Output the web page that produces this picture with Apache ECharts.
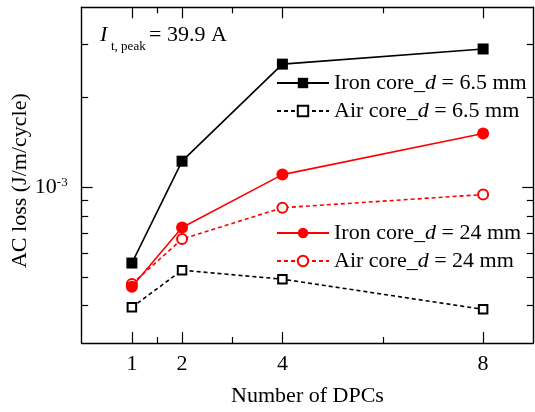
<!DOCTYPE html>
<html>
<head>
<meta charset="utf-8">
<script src="https://cdn.jsdelivr.net/npm/echarts@6/dist/echarts.min.js"></script>
<style>
html,body{margin:0;padding:0;background:#fff;}
#chart{width:535px;height:412px;}
</style>
</head>
<body>
<div id="chart"></div>
<script>
// ---- data ----
const dpcCounts = [1, 2, 4, 8];
const ironCore65 = [5.56e-4, 1.22e-3, 2.58e-3, 2.90e-3];
const airCore65  = [3.95e-4, 5.26e-4, 4.91e-4, 3.89e-4];
const ironCore24 = [4.63e-4, 7.31e-4, 1.10e-3, 1.51e-3];
const airCore24  = [4.73e-4, 6.69e-4, 8.52e-4, 9.43e-4];
const seriesNames = ['Iron core_d = 6.5 mm', 'Air core_d = 6.5 mm', 'Iron core_d = 24 mm', 'Air core_d = 24 mm'];
const xMajorTicks = [1, 2, 4, 8];
const xMinorTicks = [1.5, 3, 6];
const yMajorTicks = [1e-3];
const yMinorTicks = [4e-4, 5e-4, 6e-4, 7e-4, 8e-4, 9e-4, 2e-3, 3e-3];
const xRange = [0, 9];
const yRange = [3e-4, 4e-3];

const FONT = 'Liberation Serif';
const pairs = arr => dpcCounts.map((x, i) => [x, arr[i]]);
const lg = v => Math.log10(v);

const noLine = { show: false, onZero: false };
const blackLine = { show: true, onZero: false, lineStyle: { color: '#000', width: 1.4 } };

function xTickAxis(pos, ticks, len, showLine, extra) {
  return Object.assign({
    type: 'value', position: pos, min: xRange[0], max: xRange[1],
    axisLine: showLine ? blackLine : noLine,
    axisTick: { show: true, inside: true, length: len, customValues: ticks, lineStyle: { color: '#000', width: 1.2 } },
    axisLabel: { show: false },
    splitLine: { show: false }
  }, extra || {});
}
function yTickAxis(pos, ticks, len, showLine, extra) {
  return Object.assign({
    type: 'value', position: pos, min: lg(yRange[0]), max: lg(yRange[1]),
    axisLine: showLine ? blackLine : noLine,
    axisTick: { show: true, inside: true, length: len, customValues: ticks.map(lg), lineStyle: { color: '#000', width: 1.2 } },
    axisLabel: { show: false },
    splitLine: { show: false }
  }, extra || {});
}

const legendFormatter = name => {
  const parts = name.split('_d');
  return '{r|' + parts[0] + '_}{i|d}{r|' + parts[1] + '}';
};
const legendText = {
  fontFamily: FONT, fontSize: 22, color: '#000',
  rich: {
    r: { fontFamily: FONT, fontSize: 22, color: '#000' },
    i: { fontFamily: FONT, fontSize: 22, color: '#000', fontStyle: 'italic' }
  }
};

const option = {
  animation: false,
  backgroundColor: '#fff',
  grid: { left: 81.7, right: 1.7, top: 7.3, bottom: 65.3, containLabel: false },
  xAxis: [
    xTickAxis('bottom', xMajorTicks, 11, true, {
      axisLabel: {
        show: true, customValues: xMajorTicks, margin: 10,
        fontFamily: FONT, fontSize: 22, color: '#000'
      },
      name: 'Number of DPCs', nameLocation: 'middle', nameGap: 42,
      nameTextStyle: { fontFamily: FONT, fontSize: 22, color: '#000' }
    }),
    xTickAxis('bottom', xMinorTicks, 6, false),
    xTickAxis('top', xMajorTicks, 11, true),
    xTickAxis('top', xMinorTicks, 6, false)
  ],
  yAxis: [
    {
      type: 'log', logBase: 10, position: 'left', min: yRange[0], max: yRange[1],
      axisLine: blackLine,
      axisTick: { show: false }, axisLabel: { show: false }, splitLine: { show: false },
      minorTick: { show: false }, minorSplitLine: { show: false },
      name: 'AC loss (J/m/cycle)', nameLocation: 'middle', nameGap: 50,
      nameTextStyle: { fontFamily: FONT, fontSize: 22, color: '#000', padding: [0, 11, 0, 0] }
    },
    yTickAxis('left', yMajorTicks, 11, false, {
      axisLabel: {
        show: true, customValues: yMajorTicks.map(lg), margin: 14,
        formatter: v => '{b|10}{s|' + Math.round(v) + '}',
        rich: {
          b: { fontFamily: FONT, fontSize: 22, color: '#000' },
          s: { fontFamily: FONT, fontSize: 13, color: '#000', verticalAlign: 'top' }
        }
      }
    }),
    yTickAxis('left', yMinorTicks, 6.5, false),
    yTickAxis('right', yMajorTicks, 11, true),
    yTickAxis('right', yMinorTicks, 6.5, false)
  ],
  legend: [
    {
      data: [seriesNames[0], seriesNames[1]], orient: 'vertical', left: 276, top: 72, padding: 0,
      itemWidth: 52, itemHeight: 13, itemGap: 6, formatter: legendFormatter, textStyle: legendText
    },
    {
      data: [seriesNames[2], seriesNames[3]], orient: 'vertical', left: 276, top: 222, padding: 0,
      itemWidth: 52, itemHeight: 13, itemGap: 6, formatter: legendFormatter, textStyle: legendText
    }
  ],
  graphic: [
    { type: 'text', left: 100, top: 24, style: { text: 'I', font: 'italic 22px "Liberation Serif"', fill: '#000' } },
    { type: 'text', left: 111, top: 40, style: { text: 't, peak', font: '13px "Liberation Serif"', fill: '#000' } },
    { type: 'text', left: 149, top: 24, style: { text: '= 39.9 A', font: '22px "Liberation Serif"', fill: '#000' } }
  ],
  series: [
    {
      name: seriesNames[0], type: 'line', data: pairs(ironCore65), xAxisIndex: 0, yAxisIndex: 0,
      symbol: 'rect', symbolSize: 11, itemStyle: { color: '#000' },
      lineStyle: { color: '#000', width: 1.6, type: 'solid' }, z: 3
    },
    {
      name: seriesNames[1], type: 'line', data: pairs(airCore65), xAxisIndex: 0, yAxisIndex: 0,
      symbol: 'emptyRect', symbolSize: 8.5, itemStyle: { color: '#000', borderWidth: 2.4 },
      lineStyle: { color: '#000', width: 1.6, type: [4, 3] }, z: 3
    },
    {
      name: seriesNames[3], type: 'line', data: pairs(airCore24), xAxisIndex: 0, yAxisIndex: 0,
      symbol: 'emptyCircle', symbolSize: 10, itemStyle: { color: '#ff0000', borderWidth: 2.2 },
      lineStyle: { color: '#ff0000', width: 1.6, type: [4, 3] }, z: 3
    },
    {
      name: seriesNames[2], type: 'line', data: pairs(ironCore24), xAxisIndex: 0, yAxisIndex: 0,
      symbol: 'circle', symbolSize: 12, itemStyle: { color: '#ff0000' },
      lineStyle: { color: '#ff0000', width: 1.6, type: 'solid' }, z: 4
    }
  ]
};

const chart = echarts.init(document.getElementById('chart'), null, { renderer: 'canvas' });
chart.setOption(option);
</script>
</body>
</html>
